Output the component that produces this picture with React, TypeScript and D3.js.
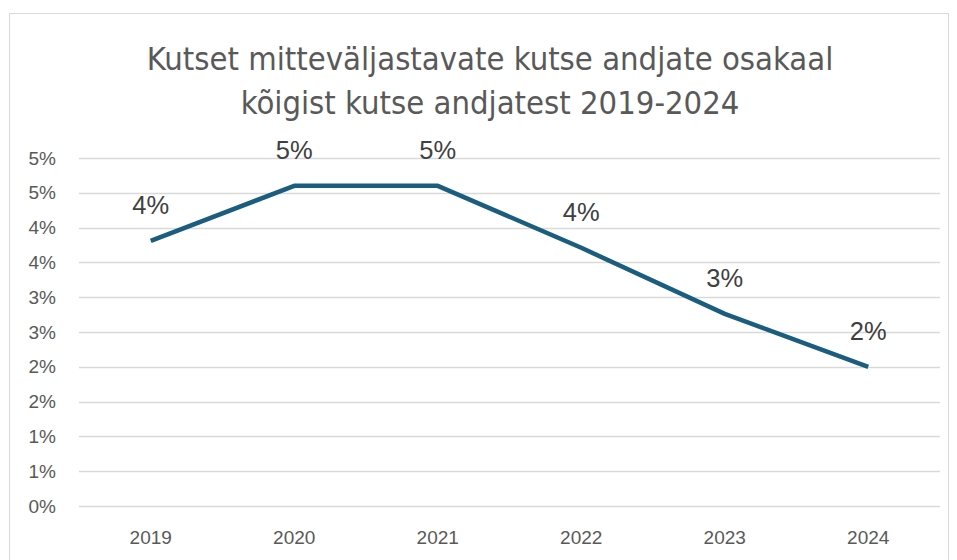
import React, { useRef, useEffect } from 'react';
import * as d3 from 'd3';

const years = ['2019', '2020', '2021', '2022', '2023', '2024'];
const shares = [3.81, 4.6, 4.6, 3.71, 2.76, 2.0];
const yTicks = [0, 0.5, 1, 1.5, 2, 2.5, 3, 3.5, 4, 4.5, 5];
const titleLines = [
  'Kutset mitteväljastavate kutse andjate osakaal',
  'kõigist kutse andjatest 2019-2024',
];

const W = 957;
const H = 560;
const TITLE_FONT = '"DejaVu Sans Condensed", "Liberation Sans Narrow", sans-serif';
const FONT = '"Liberation Sans", Arial, sans-serif';

// Excel style rounding (half up)
const fmt = (v: number) => `${Math.floor(v + 0.5 + 1e-9)}%`;

const App: React.FC = () => {
  const ref = useRef<SVGSVGElement>(null);

  useEffect(() => {
    const svg = d3.select(ref.current);
    svg.selectAll('*').remove();

    const x = d3.scaleBand().domain(years).range([79, 940]);
    const y = d3.scaleLinear().domain([0, 5]).range([506, 158]);
    const cx = (d: string) => (x(d) as number) + x.bandwidth() / 2;

    // chart border
    svg
      .append('rect')
      .attr('x', 9.5)
      .attr('y', 13.5)
      .attr('width', 939)
      .attr('height', 560)
      .attr('fill', '#fff')
      .attr('stroke', '#d9d9d9');

    // title
    svg
      .append('g')
      .selectAll('text')
      .data(titleLines)
      .enter()
      .append('text')
      .attr('x', 490)
      .attr('y', (_d, i) => 70 + i * 44)
      .attr('text-anchor', 'middle')
      .attr('font-family', TITLE_FONT)
      .attr('font-size', 32.5)
      .attr('fill', '#595959')
      .text((d) => d);

    // gridlines
    svg
      .append('g')
      .selectAll('line')
      .data(yTicks)
      .enter()
      .append('line')
      .attr('x1', 79)
      .attr('x2', 940)
      .attr('y1', (d) => Math.round(y(d)) + 0.5)
      .attr('y2', (d) => Math.round(y(d)) + 0.5)
      .attr('stroke', '#d9d9d9')
      .attr('stroke-width', 1.5);

    // y labels
    svg
      .append('g')
      .selectAll('text')
      .data(yTicks)
      .enter()
      .append('text')
      .attr('x', 56)
      .attr('y', (d) => y(d))
      .attr('dy', '0.35em')
      .attr('text-anchor', 'end')
      .attr('font-family', FONT)
      .attr('font-size', 19)
      .attr('fill', '#595959')
      .text((d) => fmt(d));

    // x labels
    svg
      .append('g')
      .selectAll('text')
      .data(years)
      .enter()
      .append('text')
      .attr('x', (d) => cx(d))
      .attr('y', 537)
      .attr('dy', '0.35em')
      .attr('text-anchor', 'middle')
      .attr('font-family', FONT)
      .attr('font-size', 19)
      .attr('fill', '#595959')
      .text((d) => d);

    // line
    const line = d3
      .line<number>()
      .x((_d, i) => cx(years[i]))
      .y((d) => y(d));

    svg
      .append('path')
      .datum(shares)
      .attr('d', line)
      .attr('fill', 'none')
      .attr('stroke', '#1b5d7f')
      .attr('stroke-width', 4.5)
      .attr('stroke-linejoin', 'round');

    // data labels
    svg
      .append('g')
      .selectAll('text')
      .data(shares)
      .enter()
      .append('text')
      .attr('x', (_d, i) => cx(years[i]))
      .attr('y', (d) => y(d) - 27)
      .attr('text-anchor', 'middle')
      .attr('font-family', FONT)
      .attr('font-size', 25.5)
      .attr('fill', '#404040')
      .text((d) => fmt(d));
  }, []);

  return (
    <svg
      ref={ref}
      width={W}
      height={H}
      style={{ position: 'absolute', left: 0, top: 0 }}
    />
  );
};

export default App;
